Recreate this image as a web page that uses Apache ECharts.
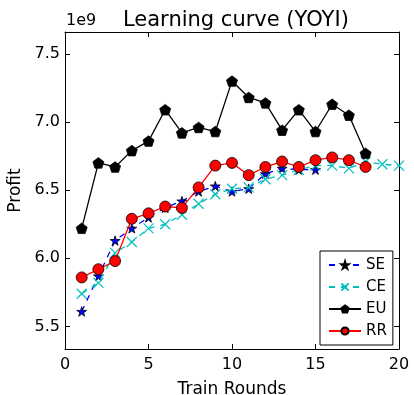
<!DOCTYPE html>
<html>
<head>
<meta charset="utf-8">
<script src="https://cdn.jsdelivr.net/npm/echarts@6/dist/echarts.min.js"></script>
<style>
  html, body { margin:0; padding:0; background:#fff; }
  #chart { width:414px; height:395px; }
</style>
</head>
<body>
<div id="chart"></div>
<script>
// Profit per train round, in units of 1e9
const SE = [5.61, 5.87, 6.13, 6.22, 6.30, 6.37, 6.42, 6.49, 6.53, 6.49, 6.51, 6.62, 6.66, 6.65, 6.65];
const CE = [5.74, 5.82, 6.04, 6.12, 6.22, 6.25, 6.32, 6.40, 6.47, 6.51, 6.52, 6.58, 6.61, 6.65, 6.68, 6.68, 6.66, 6.71, 6.69, 6.68];
const EU = [6.22, 6.70, 6.67, 6.79, 6.86, 7.09, 6.92, 6.96, 6.93, 7.30, 7.18, 7.14, 6.94, 7.09, 6.93, 7.13, 7.05, 6.77];
const RR = [5.86, 5.92, 5.98, 6.29, 6.33, 6.38, 6.37, 6.52, 6.68, 6.70, 6.61, 6.67, 6.71, 6.67, 6.72, 6.74, 6.72, 6.67];
const X_TICKS = [0, 5, 10, 15, 20];
const Y_TICKS = [5.5, 6.0, 6.5, 7.0, 7.5];

const FONT = 'DejaVu Sans';
const STAR = 'path://M50,0 L61,35 L98,35 L68,57 L79,91 L50,70 L21,91 L32,57 L2,35 L39,35 Z';
const PENTAGON = 'path://M50,0 L98,36 L80,92 L20,92 L2,36 Z';
const CROSS = 'path://M0,0 L10,10 M10,0 L0,10';

const pts = arr => arr.map((v, i) => [i + 1, v]);

const chart = echarts.init(document.getElementById('chart'), null, { renderer:'canvas' });

const tickBase = { show:true, inside:true, length:5, lineStyle:{ color:'#000', width:1 } };
const lineBase = { show:true, onZero:false, lineStyle:{ color:'#000', width:1 } };

chart.setOption({
  animation:false,
  backgroundColor:'#fff',
  textStyle:{ fontFamily:FONT },
  title:{
    text:'Learning curve (YOYI)', left:118, top:5,
    textStyle:{ fontFamily:FONT, fontSize:21, fontWeight:'normal', color:'#000' }
  },
  graphic:[{
    type:'text', left:66, top:13,
    style:{ text:'1e9', font:'16px "DejaVu Sans"', fill:'#000' }
  }],
  grid:{ left:65, right:15, top:32, bottom:46, containLabel:false, outerBoundsMode:'none' },
  legend:{
    orient:'vertical', left:320, top:251,
    data:['SE', 'CE', 'EU', 'RR'],
    backgroundColor:'#fff', borderColor:'#000', borderWidth:1, borderRadius:0,
    padding:[6, 6, 6, 8], itemGap:6, itemWidth:32, itemHeight:9,
    textStyle:{ fontFamily:FONT, fontSize:15, color:'#000', lineHeight:16 }
  },
  xAxis:[{
    type:'value', min:0, max:20, interval:5,
    axisLine:lineBase, axisTick:tickBase, splitLine:{ show:false },
    axisLabel:{ color:'#000', fontFamily:FONT, fontSize:16, margin:8,
      customValues:X_TICKS },
    name:'Train Rounds', nameLocation:'middle', nameGap:32,
    nameTextStyle:{ color:'#000', fontFamily:FONT, fontSize:17 }
  }, {
    type:'value', position:'top', min:0, max:20, interval:5,
    axisLine:lineBase, axisTick:tickBase, splitLine:{ show:false },
    axisLabel:{ show:false }
  }],
  yAxis:[{
    type:'value', min:5.335, max:7.66,
    axisLine:lineBase, splitLine:{ show:false },
    axisTick:Object.assign({ customValues:Y_TICKS }, tickBase),
    axisLabel:{ color:'#000', fontFamily:FONT, fontSize:16, margin:5,
      customValues:Y_TICKS, formatter:v => v.toFixed(1) },
    name:'Profit', nameLocation:'middle', nameGap:41,
    nameTextStyle:{ color:'#000', fontFamily:FONT, fontSize:17 }
  }, {
    type:'value', position:'right', min:5.335, max:7.66,
    axisLine:lineBase, splitLine:{ show:false },
    axisTick:Object.assign({ customValues:Y_TICKS }, tickBase),
    axisLabel:{ show:false, customValues:Y_TICKS }
  }],
  series:[{
    name:'SE', type:'line', data:pts(SE), symbol:STAR, symbolSize:10, symbolKeepAspect:true,
    lineStyle:{ color:'#0000ff', width:1.3, type:[6, 6] },
    itemStyle:{ color:'#0000ff', borderColor:'#000', borderWidth:0.8 }, z:2
  }, {
    name:'CE', type:'line', data:pts(CE), symbol:CROSS, symbolSize:10,
    lineStyle:{ color:'#00bfbf', width:1.3, type:[6, 6] },
    itemStyle:{ color:'#00bfbf', borderColor:'#00bfbf', borderWidth:1.2 }, z:3
  }, {
    name:'EU', type:'line', data:pts(EU), symbol:PENTAGON, symbolSize:11, symbolKeepAspect:true,
    lineStyle:{ color:'#000', width:1.3 },
    itemStyle:{ color:'#000', borderColor:'#000', borderWidth:0.8 }, z:4
  }, {
    name:'RR', type:'line', data:pts(RR), symbol:'circle', symbolSize:11,
    lineStyle:{ color:'#ff0000', width:1.3 },
    itemStyle:{ color:'#ff0000', borderColor:'#000', borderWidth:0.8 }, z:5
  }]
});
</script>
</body>
</html>
